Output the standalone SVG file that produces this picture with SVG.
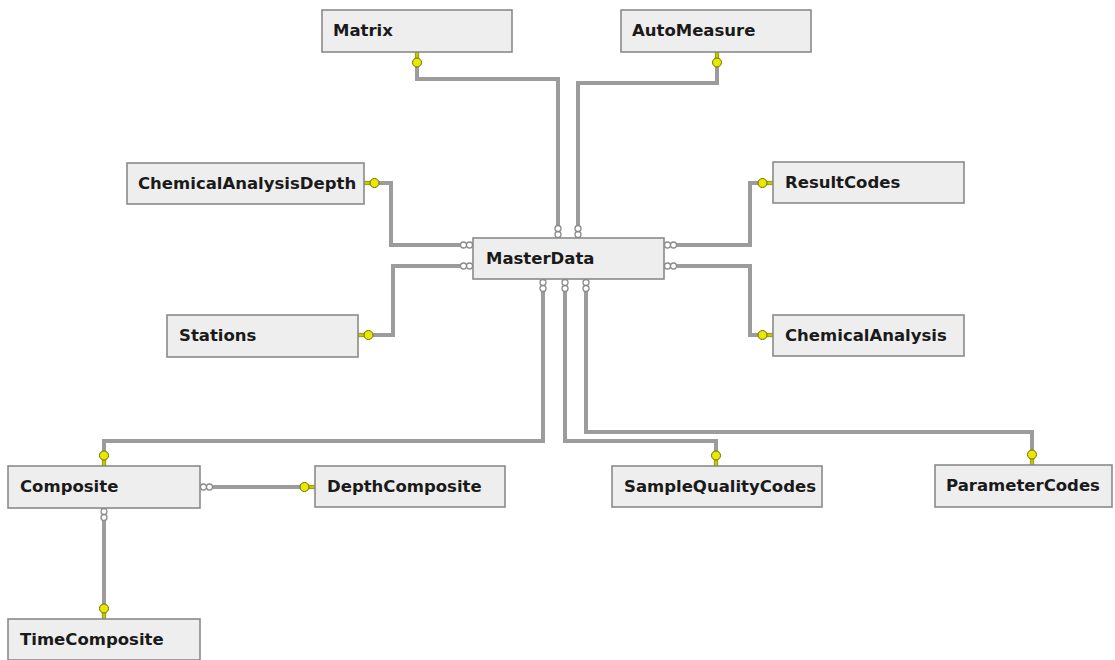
<svg xmlns="http://www.w3.org/2000/svg" xmlns:xlink="http://www.w3.org/1999/xlink" width="1115" height="660" viewBox="0 0 1115 660">
<style>
.box{fill:#eeeeee;stroke:#8a8a8a;stroke-width:1.6}
.lbl{font-family:"DejaVu Sans",Verdana,sans-serif;font-weight:bold;font-size:16.5px;fill:#1a1a1a}
.eo{fill:none;stroke:#9c9c9c;stroke-width:4}
.ei{fill:none;stroke:#d6d6d6;stroke-width:1.2}
</style>
<defs>
<g id="key">
<rect x="-1.8" y="-7" width="3.6" height="7" fill="#c8c800" stroke="#6e6e00" stroke-width="0.6"/>
<circle cx="0" cy="-10.5" r="4.5" fill="#e8e800" stroke="#6e6e00" stroke-width="1"/>
</g>
<g id="inf" fill="#ffffff" stroke="#8a8a8a" stroke-width="1.3">
<circle cx="0" cy="-3.5" r="3"/>
<circle cx="0" cy="-9.5" r="3"/>
</g>
</defs>
<rect width="1115" height="660" fill="#ffffff"/>
<g id="connectors">
<path id="c1" class="eo" d="M417,66 V79 H558 V225"/>
<path id="c2" class="eo" d="M717,66 V83 H578 V225"/>
<path id="c3" class="eo" d="M379,183 H391 V245 H460"/>
<path id="c4" class="eo" d="M460,266 H393 V335 H373"/>
<path id="c5" class="eo" d="M677,245 H750 V183 H760"/>
<path id="c6" class="eo" d="M677,266 H750 V335 H760"/>
<path id="c7" class="eo" d="M543,292 V441 H104 V453"/>
<path id="c8" class="eo" d="M565,292 V441 H716 V453"/>
<path id="c9" class="eo" d="M586,292 V432 H1032 V452"/>
<path id="c10" class="eo" d="M213,487 H302"/>
<path id="c11" class="eo" d="M104,521 V606"/>
<use xlink:href="#c1" class="ei"/><use xlink:href="#c2" class="ei"/><use xlink:href="#c3" class="ei"/>
<use xlink:href="#c4" class="ei"/><use xlink:href="#c5" class="ei"/><use xlink:href="#c6" class="ei"/>
<use xlink:href="#c7" class="ei"/><use xlink:href="#c8" class="ei"/><use xlink:href="#c9" class="ei"/>
<use xlink:href="#c10" class="ei"/><use xlink:href="#c11" class="ei"/>
<use xlink:href="#key" transform="translate(417,52) rotate(180)"/>
<use xlink:href="#key" transform="translate(717,52) rotate(180)"/>
<use xlink:href="#key" transform="translate(364,183) rotate(90)"/>
<use xlink:href="#key" transform="translate(358,335) rotate(90)"/>
<use xlink:href="#key" transform="translate(773,183) rotate(-90)"/>
<use xlink:href="#key" transform="translate(773,335) rotate(-90)"/>
<use xlink:href="#key" transform="translate(104,466)"/>
<use xlink:href="#key" transform="translate(716,466)"/>
<use xlink:href="#key" transform="translate(1032,465)"/>
<use xlink:href="#key" transform="translate(315,487) rotate(-90)"/>
<use xlink:href="#key" transform="translate(104,619)"/>
<use xlink:href="#inf" transform="translate(558,238)"/>
<use xlink:href="#inf" transform="translate(578,238)"/>
<use xlink:href="#inf" transform="translate(473,245) rotate(-90)"/>
<use xlink:href="#inf" transform="translate(473,266) rotate(-90)"/>
<use xlink:href="#inf" transform="translate(664,245) rotate(90)"/>
<use xlink:href="#inf" transform="translate(664,266) rotate(90)"/>
<use xlink:href="#inf" transform="translate(543,279) rotate(180)"/>
<use xlink:href="#inf" transform="translate(565,279) rotate(180)"/>
<use xlink:href="#inf" transform="translate(586,279) rotate(180)"/>
<use xlink:href="#inf" transform="translate(200,487) rotate(90)"/>
<use xlink:href="#inf" transform="translate(104,508) rotate(180)"/>
</g>
<g id="Matrix"><rect class="box" x="322" y="10" width="190" height="42"/><text class="lbl" x="333" y="36">Matrix</text></g>
<g id="AutoMeasure"><rect class="box" x="621" y="10" width="190" height="42"/><text class="lbl" x="632" y="36">AutoMeasure</text></g>
<g id="ChemicalAnalysisDepth"><rect class="box" x="127" y="163" width="237" height="41"/><text class="lbl" x="138" y="189">ChemicalAnalysisDepth</text></g>
<g id="ResultCodes"><rect class="box" x="773" y="162" width="191" height="41"/><text class="lbl" x="785" y="188">ResultCodes</text></g>
<g id="MasterData"><rect class="box" x="473" y="238" width="191" height="41"/><text class="lbl" x="486" y="264">MasterData</text></g>
<g id="Stations"><rect class="box" x="167" y="315" width="191" height="42"/><text class="lbl" x="179" y="341">Stations</text></g>
<g id="ChemicalAnalysis"><rect class="box" x="773" y="315" width="191" height="41"/><text class="lbl" x="785" y="341">ChemicalAnalysis</text></g>
<g id="Composite"><rect class="box" x="8" y="466" width="192" height="42"/><text class="lbl" x="20" y="492">Composite</text></g>
<g id="DepthComposite"><rect class="box" x="315" y="466" width="190" height="41"/><text class="lbl" x="327" y="492">DepthComposite</text></g>
<g id="SampleQualityCodes"><rect class="box" x="612" y="466" width="210" height="41"/><text class="lbl" x="624" y="492">SampleQualityCodes</text></g>
<g id="ParameterCodes"><rect class="box" x="935" y="465" width="177" height="42"/><text class="lbl" x="946" y="491">ParameterCodes</text></g>
<g id="TimeComposite"><rect class="box" x="8" y="619" width="192" height="41"/><text class="lbl" x="20" y="645">TimeComposite</text></g>
</svg>
